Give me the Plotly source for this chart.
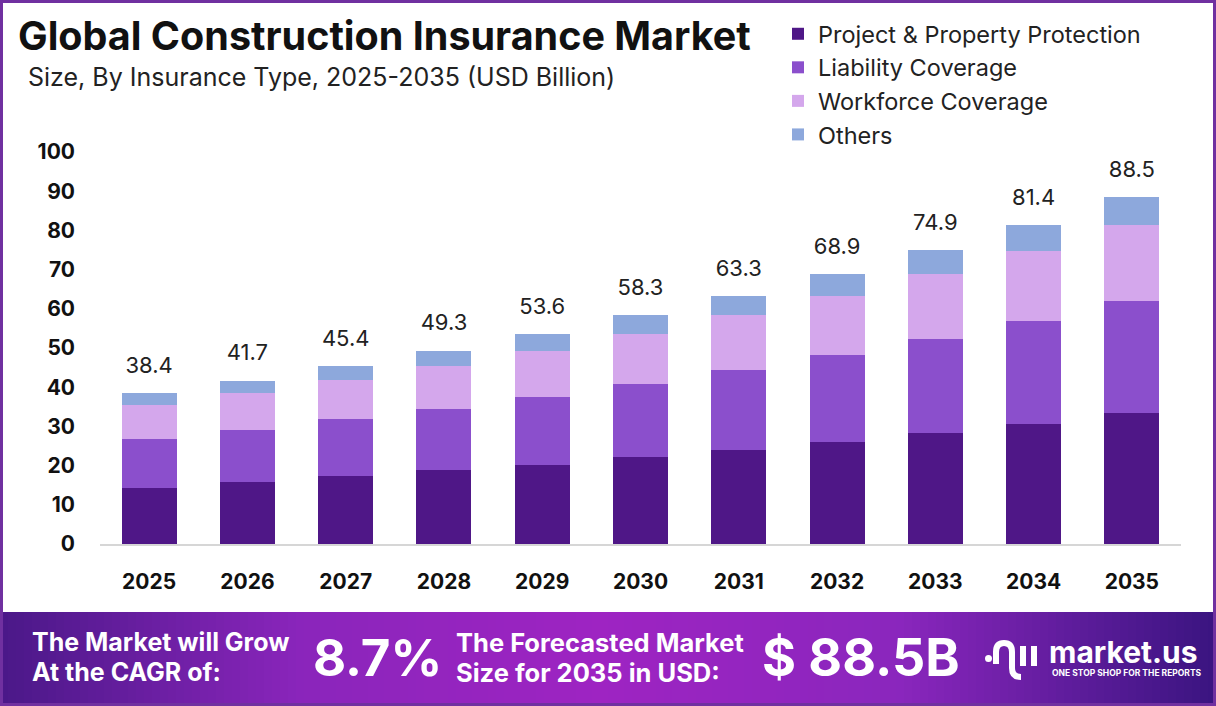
import plotly.graph_objects as go

years = ["2025", "2026", "2027", "2028", "2029", "2030", "2031", "2032", "2033", "2034", "2035"]
project_property = [14.4, 15.7, 17.3, 18.8, 20.2, 22.1, 24.1, 26.1, 28.4, 30.7, 33.5]
liability = [12.5, 13.5, 14.5, 15.6, 17.3, 18.6, 20.3, 22.0, 23.9, 26.1, 28.4]
workforce = [8.5, 9.2, 10.0, 11.1, 11.8, 13.0, 13.9, 15.2, 16.6, 17.9, 19.4]
others = [3.0, 3.3, 3.6, 3.8, 4.3, 4.6, 5.0, 5.6, 6.0, 6.7, 7.2]
totals = [38.4, 41.7, 45.4, 49.3, 53.6, 58.3, 63.3, 68.9, 74.9, 81.4, 88.5]
series_names = ["Project & Property Protection", "Liability Coverage", "Workforce Coverage", "Others"]
series_colors = ["#4f1787", "#8b4fcc", "#d4a7ec", "#8da8dc"]
y_ticks = [0, 10, 20, 30, 40, 50, 60, 70, 80, 90, 100]

W, H = 1216, 706
L, R, T, B = 100, 1181, 152, 544

def fx(px):
    return (px - L) / (R - L)

def fy(py):
    return (B - py) / (B - T)

FONT = "Inter"

fig = go.Figure()
for name, vals, col in zip(series_names, [project_property, liability, workforce, others], series_colors):
    fig.add_trace(go.Bar(x=years, y=vals, name=name, marker=dict(color=col, line=dict(width=0))))

# total labels above bars (invisible marker offsets the text)
fig.add_trace(go.Scatter(x=years, y=totals, mode="markers+text", text=[f"{t}" for t in totals],
                         textposition="top center", showlegend=False, hoverinfo="skip",
                         marker=dict(size=22, opacity=0, color="white"),
                         textfont=dict(family=FONT, size=22, color="#222222")))

annotations = []

def note(px, py, text, size, color="white", anchor="left"):
    annotations.append(dict(x=fx(px), y=fy(py), xref="paper", yref="paper", xanchor=anchor, yanchor="middle",
                            text=text, showarrow=False, font=dict(family=FONT, size=size, color=color)))

# Titles
note(16, 36, "<b>Global Construction Insurance Market</b>", 39.5, "#111111")
note(26, 77, "Size, By Insurance Type, 2025-2035 (USD Billion)", 25, "#222222")

# Banner texts
note(30, 642, "<b>The Market will Grow</b>", 25)
note(30, 672, "<b>At the CAGR of:</b>", 25)
note(311, 657, "<b>8.7%</b>", 51)
note(454, 642, "<b>The Forecasted Market</b>", 25.5)
note(454, 672, "<b>Size for 2035 in USD:</b>", 25.5)
note(760, 657, "<b>$ 88.5B</b>", 52)
note(1047, 652, "<b>market.us</b>", 30)
note(1050, 673, "<b>ONE STOP SHOP FOR THE REPORTS</b>", 8.5)

shapes = []
# banner gradient strips
def lerp(a, b, t):
    return tuple(int(round(a[i] + (b[i] - a[i]) * t)) for i in range(3))

stops = [(0, (74, 24, 136)), (300, (138, 37, 187)), (600, (158, 36, 194)), (900, (138, 38, 189)), (1216, (58, 20, 128))]
step = 8
for x0 in range(0, W, step):
    xc = x0 + step / 2
    for (a, ca), (b, cb) in zip(stops[:-1], stops[1:]):
        if a <= xc <= b:
            c = lerp(ca, cb, (xc - a) / (b - a))
            break
    shapes.append(dict(type="rect", xref="paper", yref="paper", x0=fx(x0), x1=fx(x0 + step + 0.5),
                       y0=fy(706), y1=fy(612), fillcolor="rgb(%d,%d,%d)" % c, line=dict(width=0), layer="below"))

# logo icon
def P(px, py):
    return f"{fx(px)},{fy(py)}"

shapes.append(dict(type="circle", xref="paper", yref="paper", x0=fx(985), x1=fx(992), y0=fy(662), y1=fy(655),
                   fillcolor="white", line=dict(width=0)))
shapes.append(dict(type="path", xref="paper", yref="paper",
                   path=f"M{P(996,664)} L{P(996,652)} Q{P(996,643)} {P(1004,643)} Q{P(1012,643)} {P(1012,652)} L{P(1012,668)} Q{P(1012,677)} {P(1021,677)}",
                   line=dict(color="white", width=6)))
shapes.append(dict(type="line", xref="paper", yref="paper", x0=fx(1023), x1=fx(1023), y0=fy(646), y1=fy(666),
                   line=dict(color="white", width=6)))
shapes.append(dict(type="line", xref="paper", yref="paper", x0=fx(1034), x1=fx(1034), y0=fy(646), y1=fy(666),
                   line=dict(color="white", width=6)))

# border around image
shapes.append(dict(type="rect", xref="paper", yref="paper", x0=fx(1.5), x1=fx(1214.5), y0=fy(704.5), y1=fy(1.5),
                   line=dict(color="#7030a0", width=3), fillcolor="rgba(0,0,0,0)"))

fig.update_layout(
    width=W, height=H,
    margin=dict(l=L, r=W - R, t=T, b=H - B, pad=0),
    barmode="stack", bargap=0.44,
    plot_bgcolor="white", paper_bgcolor="white",
    font=dict(family=FONT, color="#111111"),
    showlegend=True,
    legend=dict(x=fx(778), y=fy(12), xanchor="left", yanchor="top", traceorder="normal",
                font=dict(family=FONT, size=23.5, color="#222222"), itemwidth=30,
                bgcolor="rgba(0,0,0,0)", tracegroupgap=0),
    xaxis=dict(type="category", range=[-0.5, len(years) - 0.5], autorange=False,
               showgrid=False, showline=True, linecolor="#d6d6d6", linewidth=2, ticks="",
               tickfont=dict(family=FONT, size=21, color="#111111"), ticklabelstandoff=18,
               tickvals=years, ticktext=[f"<b>{y}</b>" for y in years]),
    yaxis=dict(range=[0, 100], autorange=False, showgrid=False, zeroline=False, showline=False, ticks="",
               tickvals=y_ticks, ticktext=[f"<b>{v}</b>" for v in y_ticks],
               tickfont=dict(family=FONT, size=21, color="#111111"), ticklabelstandoff=24),
    annotations=annotations,
    shapes=shapes,
)

fig.write_html("out.html")
